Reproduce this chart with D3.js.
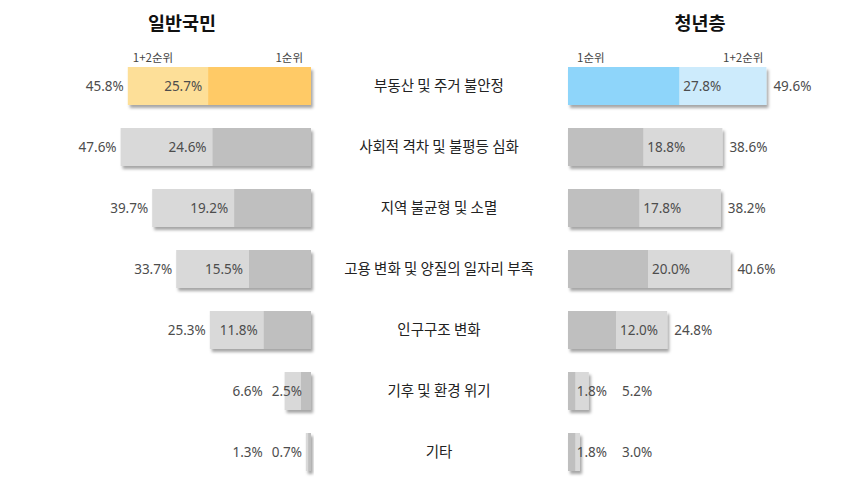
<!DOCTYPE html>
<html><head><meta charset="utf-8">
<script src="https://cdn.jsdelivr.net/npm/d3@7"></script>
<style>
body{margin:0;background:#fff;}
text{font-family:"Noto Sans CJK KR","Noto Sans",sans-serif;}
text.num{font-family:"Noto Sans","Noto Sans CJK KR",sans-serif;}
</style></head>
<body><svg id="c" width="868" height="497"></svg>
<script>
const categories = ["부동산 및 주거 불안정","사회적 격차 및 불평등 심화","지역 불균형 및 소멸","고용 변화 및 양질의 일자리 부족","인구구조 변화","기후 및 환경 위기","기타"];
const generalFirst = [25.7,24.6,19.2,15.5,11.8,2.5,0.7];
const generalTotal = [45.8,47.6,39.7,33.7,25.3,6.6,1.3];
const youthFirst = [27.8,18.8,17.8,20.0,12.0,1.8,1.8];
const youthTotal = [49.6,38.6,38.2,40.6,24.8,5.2,3.0];
const groupTitles = ["일반국민","청년층"];
const legendLabels = ["1순위","1+2순위"];

const svg = d3.select("#c");
const defs = svg.append("defs");
const f = defs.append("filter").attr("id","sh").attr("x","-20%").attr("y","-20%").attr("width","160%").attr("height","160%");
f.append("feDropShadow").attr("dx",2).attr("dy",3).attr("stdDeviation",1.4).attr("flood-color","#000").attr("flood-opacity",0.35);

const y = d3.scaleBand().domain(categories).range([55.5,482.5]).paddingInner(23/61).paddingOuter(23/122);
const xL = d3.scaleLinear().domain([0,50]).range([311,111]);
const xR = d3.scaleLinear().domain([0,50]).range([568,768]);

const gray = {light:"#d9d9d9", dark:"#bfbfbf"};
const yellow = {light:"#fddf98", dark:"#ffca66"};
const blue = {light:"#cdebfc", dark:"#8ed5fa"};
const valColor = "#4d4d4d";
const numSize = 13.5;

// titles
svg.append("text").attr("x",182).attr("y",30).attr("text-anchor","middle").attr("font-size",18.5).attr("font-weight","bold").attr("fill","#111").text(groupTitles[0]);
svg.append("text").attr("x",700).attr("y",30).attr("text-anchor","middle").attr("font-size",18.5).attr("font-weight","bold").attr("fill","#111").text(groupTitles[1]);

// legend labels
const lg = svg.append("g").attr("font-size",11.5).attr("fill","#444");
lg.append("text").attr("x",xL(generalTotal[0])+5).attr("y",62).attr("text-anchor","start").text(legendLabels[1]);
lg.append("text").attr("x",xL(0)-8).attr("y",62).attr("text-anchor","end").text(legendLabels[0]);
lg.append("text").attr("x",xR(0)+9).attr("y",62).attr("text-anchor","start").text(legendLabels[0]);
lg.append("text").attr("x",xR(youthTotal[0])-3).attr("y",62).attr("text-anchor","end").text(legendLabels[1]);

categories.forEach((c,i)=>{
  const top = y(c), h = y.bandwidth(), cy = top + h/2;
  const colL = i===0 ? yellow : gray;
  const colR = i===0 ? blue : gray;
  // left bars
  const gL = svg.append("g").attr("filter","url(#sh)");
  gL.append("rect").attr("x",xL(generalTotal[i])).attr("y",top).attr("width",xL(0)-xL(generalTotal[i])).attr("height",h).attr("fill",colL.light);
  gL.append("rect").attr("x",xL(generalFirst[i])).attr("y",top).attr("width",xL(0)-xL(generalFirst[i])).attr("height",h).attr("fill",colL.dark);
  // right bars
  const gR = svg.append("g").attr("filter","url(#sh)");
  gR.append("rect").attr("x",xR(0)).attr("y",top).attr("width",xR(youthTotal[i])-xR(0)).attr("height",h).attr("fill",colR.light);
  gR.append("rect").attr("x",xR(0)).attr("y",top).attr("width",xR(youthFirst[i])-xR(0)).attr("height",h).attr("fill",colR.dark);

  // category label
  svg.append("text").attr("x",439).attr("y",cy+5).attr("text-anchor","middle").attr("font-size",14.5).attr("fill","#222").text(c);

  // left labels
  const inL = svg.append("text").attr("class","num").attr("y",cy+5).attr("text-anchor","end").attr("font-size",numSize).attr("fill",valColor).text(generalFirst[i].toFixed(1)+"%");
  const wInL = inL.node().getComputedTextLength();
  let endL = xL(generalFirst[i]) - 6;
  if (endL - wInL < xL(generalTotal[i]) + 2) endL = xL(0) - 9;
  inL.attr("x",endL);
  const outLx = Math.min(xL(generalTotal[i]) - 4, endL - wInL - 9);
  svg.append("text").attr("class","num").attr("x",outLx).attr("y",cy+5).attr("text-anchor","end").attr("font-size",numSize).attr("fill",valColor).text(generalTotal[i].toFixed(1)+"%");

  // right labels
  const inR = svg.append("text").attr("class","num").attr("y",cy+5).attr("text-anchor","start").attr("font-size",numSize).attr("fill",valColor).text(youthFirst[i].toFixed(1)+"%");
  const wInR = inR.node().getComputedTextLength();
  let stR = xR(youthFirst[i]) + 4;
  if (stR + wInR > xR(youthTotal[i]) - 2) stR = xR(youthFirst[i]) + 1.5;
  inR.attr("x",stR);
  const outRx = Math.max(xR(youthTotal[i]) + 7, stR + wInR + 15);
  svg.append("text").attr("class","num").attr("x",outRx).attr("y",cy+5).attr("text-anchor","start").attr("font-size",numSize).attr("fill",valColor).text(youthTotal[i].toFixed(1)+"%");
});
</script></body></html>
